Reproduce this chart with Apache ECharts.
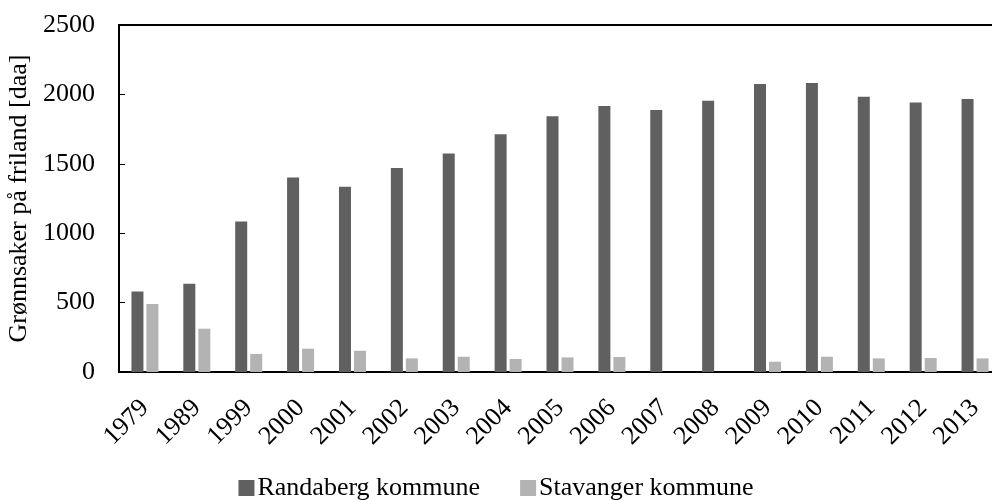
<!DOCTYPE html>
<html>
<head>
<meta charset="utf-8">
<script src="https://cdn.jsdelivr.net/npm/echarts@6/dist/echarts.min.js"></script>
<style>
  html, body { margin: 0; padding: 0; background: #fff; }
  #chart { width: 992px; height: 500px; }
</style>
</head>
<body>
<div id="chart"></div>
<script>
const years = ['1979', '1989', '1999', '2000', '2001', '2002', '2003', '2004', '2005',
  '2006', '2007', '2008', '2009', '2010', '2011', '2012', '2013'];
const randaberg = [580, 636, 1085, 1402, 1335, 1470, 1575, 1712, 1842,
  1916, 1888, 1955, 2075, 2082, 1983, 1942, 1966];
const stavanger = [490, 312, 130, 168, 153, 98, 110, 94, 105,
  108, 0, 0, 74, 110, 98, 101, 98];
const yTicks = [0, 500, 1000, 1500, 2000, 2500];

const fontFamily = '"Liberation Serif", "Times New Roman", serif';

const chart = echarts.init(document.getElementById('chart'));

const option = {
  animation: false,
  textStyle: { fontFamily: fontFamily, color: '#000' },
  grid: {
    left: 119,
    top: 25,
    width: 882,
    height: 347,
    outerBoundsMode: 'none',
    containLabel: false,
    show: true,
    borderColor: '#000',
    borderWidth: 2,
    backgroundColor: 'transparent',
  },
  legend: {
    left: 'center',
    top: 470,
    itemWidth: 16,
    itemHeight: 16,
    itemGap: 40,
    icon: 'rect',
    textStyle: { fontFamily: fontFamily, fontSize: 26, color: '#000', padding: [0, 0, 0, -2] },
    data: ['Randaberg kommune', 'Stavanger kommune'],
  },
  xAxis: {
    type: 'category',
    data: years,
    axisLine: { lineStyle: { color: '#000', width: 2 } },
    axisTick: { show: false },
    axisLabel: {
      rotate: 45,
      interval: 0,
      margin: 32,
      fontFamily: fontFamily,
      fontSize: 26,
      color: '#000',
    },
  },
  yAxis: {
    type: 'value',
    min: yTicks[0],
    max: yTicks[yTicks.length - 1],
    interval: 500,
    name: 'Grønnsaker på friland [daa]',
    nameLocation: 'middle',
    nameGap: 86,
    nameTextStyle: { fontFamily: fontFamily, fontSize: 26, color: '#000' },
    splitLine: { show: false },
    axisLine: { show: true, lineStyle: { color: '#000', width: 2 } },
    axisTick: { show: true, inside: true, length: 6, lineStyle: { color: '#000', width: 1 } },
    axisLabel: {
      margin: 24,
      fontFamily: fontFamily,
      fontSize: 26,
      color: '#000',
      formatter: (v) => String(v),
    },
  },
  series: [
    {
      name: 'Randaberg kommune',
      type: 'bar',
      data: randaberg,
      barWidth: 12,
      barGap: '25%',
      itemStyle: { color: '#606060' },
    },
    {
      name: 'Stavanger kommune',
      type: 'bar',
      data: stavanger,
      barWidth: 12,
      itemStyle: { color: '#b3b3b3' },
    },
  ],
};

chart.setOption(option);
</script>
</body>
</html>
